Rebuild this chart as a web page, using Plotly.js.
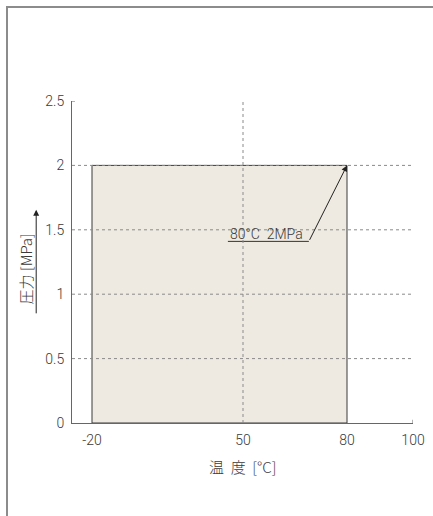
<!DOCTYPE html>
<html>
<head>
<meta charset="utf-8">
<script src="https://cdn.plot.ly/plotly-3.0.1.min.js"></script>
<style>
  html, body { margin: 0; padding: 0; background: #fff; overflow: hidden; }
  #chart { position: absolute; left: 0; top: 0; width: 433px; height: 516px; }
  #frame { position: absolute; left: 6px; top: 6px; width: 600px; height: 700px;
           border-left: 2px solid #8c8c8c; border-top: 2px solid #8c8c8c; pointer-events: none; }
</style>
</head>
<body>
<div id="chart"></div>
<div id="frame"></div>
<script>
// ---- data ----
const xTickTemps = [-20, 50, 80, 100];
const xTickLabels = ['-20', '50', '80', '100'];
const yTickVals = [0, 0.5, 1, 1.5, 2, 2.5];
const yTickLabels = ['0', '0.5', '1', '1.5', '2', '2.5'];
const tempRange = [-20, 80];          // usable temperature range [°C]
const maxPressure = 2;                // max pressure [MPa]
const gridTemps = [50];
const gridPressures = [0.5, 1, 1.5, 2];
const ratingLabel = '80°C&nbsp;&nbsp;2MPa';
const ratingTemp = 80;
const ratingPressure = 2;
const leaderTemps = [43, 69];         // underline of the label
const leaderPressure = 1.41;

// ---- schematic (non-uniform) temperature scale, as drawn in the original ----
const scaleUnits = [20, 171, 275, 341];   // axis units at xTickTemps
const xAxisEnd = 341;
function ux(T) {
  let i = 0;
  if (T > xTickTemps[1]) i = 1;
  if (T > xTickTemps[2]) i = 2;
  const t0 = xTickTemps[i], t1 = xTickTemps[i + 1];
  const u0 = scaleUnits[i], u1 = scaleUnits[i + 1];
  return u0 + (T - t0) * (u1 - u0) / (t1 - t0);
}

const txtColor = '#3a3a3a';
const gridColor = '#8a8a8a';
const fontFam = 'Roboto, "Noto Sans CJK JP", sans-serif';
const cjkFam = '"Noto Sans CJK JP", sans-serif';

const rectX = [tempRange[0], tempRange[0], tempRange[1], tempRange[1], tempRange[0]].map(ux);
const rectY = [0, maxPressure, maxPressure, 0, 0];

const traces = [
  {
    x: rectX, y: rectY, type: 'scatter', mode: 'lines', fill: 'toself',
    fillcolor: '#eeeae1', line: { color: '#3a3a3a', width: 1 }, hoverinfo: 'skip'
  },
  {
    x: leaderTemps.map(ux), y: [leaderPressure, leaderPressure], type: 'scatter', mode: 'lines',
    line: { color: '#333', width: 1 }, hoverinfo: 'skip'
  }
];

const shapes = [];
gridPressures.forEach(p => shapes.push({
  type: 'line', xref: 'x', yref: 'y', x0: 0, x1: xAxisEnd, y0: p, y1: p, layer: 'above',
  line: { color: gridColor, width: 1, dash: '3px,3px' }
}));
gridTemps.forEach(t => shapes.push({
  type: 'line', xref: 'x', yref: 'y', x0: ux(t), x1: ux(t), y0: 0, y1: 2.5, layer: 'above',
  line: { color: gridColor, width: 1, dash: '3px,3px' }
}));
// small end ticks of the axes
shapes.push({ type: 'line', xref: 'x', yref: 'y', x0: xAxisEnd, x1: xAxisEnd, y0: 0, y1: 0.025,
  line: { color: '#666', width: 1 } });
shapes.push({ type: 'line', xref: 'x', yref: 'y', x0: 0, x1: 3, y0: 2.5, y1: 2.5,
  line: { color: '#666', width: 1 } });

const annotations = [
  {
    x: ux(leaderTemps[0]), y: leaderPressure, xref: 'x', yref: 'y', xanchor: 'left', yanchor: 'bottom',
    text: ratingLabel, showarrow: false, yshift: -3,
    font: { family: fontFam, size: 14, color: txtColor, weight: 300 }
  },
  {
    x: ux(ratingTemp), y: ratingPressure, xref: 'x', yref: 'y', text: '', showarrow: true,
    axref: 'x', ayref: 'y', ax: ux(leaderTemps[1]), ay: leaderPressure,
    arrowhead: 2, arrowsize: 1.2, arrowwidth: 1, arrowcolor: '#222', standoff: 0
  },
  {
    x: -0.138, y: 0.48, xref: 'paper', yref: 'paper', text: '圧力&nbsp;[MPa]', textangle: -90,
    showarrow: false, xanchor: 'center', yanchor: 'middle',
    font: { family: cjkFam, size: 15, color: txtColor, weight: 300 }
  },
  {
    x: -0.105, y: 0.662, xref: 'paper', yref: 'paper', text: '', showarrow: true,
    ax: 0, ay: 105, arrowhead: 2, arrowsize: 1.2, arrowwidth: 1, arrowcolor: '#222', standoff: 0
  },
  {
    x: 0.501, y: -0.134, xref: 'paper', yref: 'paper', text: '温&nbsp;&nbsp;度&nbsp;&nbsp;[°C]',
    showarrow: false, xanchor: 'center', yanchor: 'middle',
    font: { family: cjkFam, size: 15, color: txtColor, weight: 300 }
  }
];

const layout = {
  width: 433, height: 516,
  margin: { l: 72, r: 20, t: 101, b: 93 },
  paper_bgcolor: '#fff', plot_bgcolor: '#fff',
  showlegend: false,
  xaxis: {
    range: [0, xAxisEnd], showgrid: false, zeroline: false,
    showline: true, linecolor: '#666', linewidth: 1,
    tickvals: xTickTemps.map(ux), ticktext: xTickLabels,
    ticks: '', ticklabelstandoff: 4,
    tickfont: { family: fontFam, size: 14, color: txtColor, weight: 300 }
  },
  yaxis: {
    range: [0, 2.5], showgrid: false, zeroline: false,
    showline: true, linecolor: '#666', linewidth: 1,
    tickvals: yTickVals, ticktext: yTickLabels,
    ticks: '', ticklabelstandoff: 4,
    tickfont: { family: fontFam, size: 14, color: txtColor, weight: 300 }
  },
  shapes: shapes,
  annotations: annotations
};

Plotly.newPlot('chart', traces, layout, { staticPlot: true, displayModeBar: false });
</script>
</body>
</html>
